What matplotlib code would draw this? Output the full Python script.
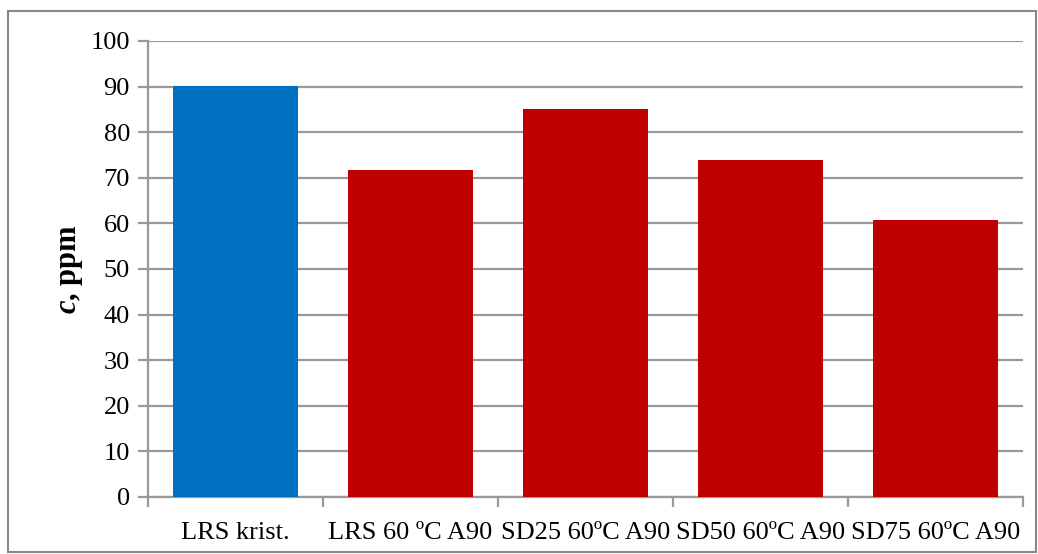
import matplotlib.pyplot as plt
from matplotlib.patches import Rectangle

categories = ["LRS krist.", "LRS 60 \u00baC A90", "SD25 60\u00baC A90", "SD50 60\u00baC A90", "SD75 60\u00baC A90"]
values = [90.2, 71.8, 85.0, 74.0, 60.7]
colors = ["#0070C0", "#C00000", "#C00000", "#C00000", "#C00000"]

plt.rcParams['font.family'] = ['Liberation Serif', 'DejaVu Serif']
plt.rcParams['mathtext.fontset'] = 'custom'
plt.rcParams['mathtext.rm'] = 'Liberation Serif'
plt.rcParams['mathtext.it'] = 'Liberation Serif:italic'
plt.rcParams['mathtext.bf'] = 'Liberation Serif:bold'
plt.rcParams['mathtext.bfit'] = 'Liberation Serif:italic:bold'

fig = plt.figure(figsize=(10.38, 5.54), dpi=100)
ax = fig.add_axes([0.1426, 0.1029, 0.843, 0.8231])

x = range(len(categories))
ax.bar(x, values, width=0.714, color=colors, zorder=3)

ax.set_xlim(-0.5, len(categories) - 0.5)
ax.set_ylim(0, 100)
ax.set_yticks(range(0, 101, 10))
ax.yaxis.grid(True, color="#999999", linewidth=1.6, zorder=0)

# category boundaries get the tick marks, labels sit in between
ax.set_xticks([i - 0.5 for i in range(len(categories) + 1)])
ax.set_xticklabels([])
ax.set_xticks(list(x), minor=True)
ax.set_xticklabels(categories, minor=True, fontsize=19)
ax.tick_params(axis='x', which='minor', length=0, pad=18)
ax.tick_params(axis='x', which='major', length=7, width=1.6, color="#999999")
ax.tick_params(axis='y', length=7, width=1.6, color="#999999", labelsize=19, pad=6)

for side in ["top", "right"]:
    ax.spines[side].set_visible(False)
for side in ["left", "bottom"]:
    ax.spines[side].set_color("#999999")
    ax.spines[side].set_linewidth(1.6)

ax.set_ylabel(r"$\mathbfit{c}$, ppm", fontsize=22, fontweight="bold", labelpad=4)

fig.patches.append(Rectangle((0.008, 0.004), 0.99, 0.976, transform=fig.transFigure,
                             fill=False, edgecolor="#888888", linewidth=1.5))

fig.savefig("out.png", dpi=100)
